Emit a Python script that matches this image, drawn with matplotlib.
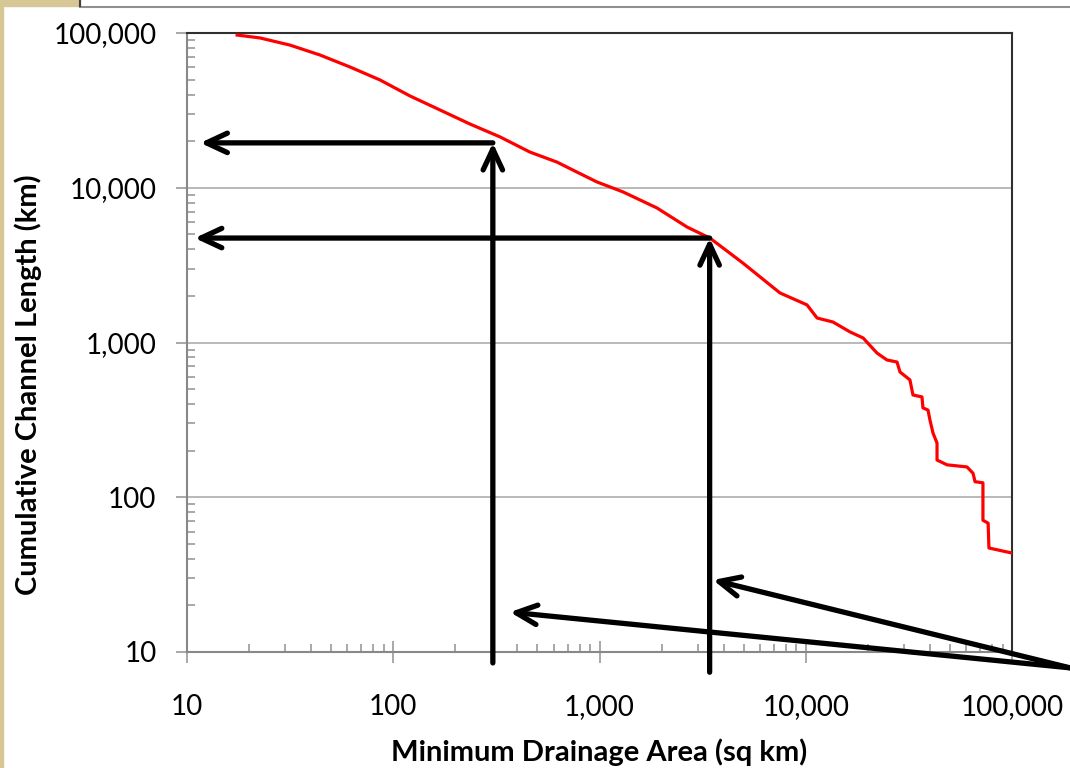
import numpy as np
import matplotlib.pyplot as plt
from matplotlib.ticker import FuncFormatter, LogLocator, NullFormatter
from matplotlib.patches import Rectangle
from matplotlib.lines import Line2D

plt.rcParams['font.family'] = ['Lato', 'DejaVu Sans']

# Curva acumulada
area = [17.5, 22.6, 31.6, 44.1, 61.7, 86.3, 120.5, 168.6, 235.6, 329.6, 460,
        622, 780, 972, 1300, 1900, 2660, 3430, 4960, 7500, 10140, 11350,
        13560, 16400, 18970, 22150, 24760, 27700, 28640, 32000, 33100, 36600,
        37000, 39150, 40000, 41400, 43300, 43300, 48400, 60500, 64700, 66200,
        72300, 72300, 76600, 77300, 100000]
length = [97000, 92900, 83500, 72100, 60300, 49700, 39200, 31800, 25800, 21300,
          17000, 14650, 12600, 10900, 9400, 7400, 5570, 4730, 3260, 2090, 1750,
          1440, 1356, 1170, 1070, 855, 771, 748, 645, 573, 458, 445, 378, 366,
          316, 260, 224, 174, 162, 157, 143, 126, 124, 71, 68, 47, 43.6]

# Flechas de lectura: (area, longitud, punta izquierda, inicio abajo)
reads = [(304, 19500, 11.6, 8.5), (3420, 4730, 10.9, 7.4)]
# Flechas diagonales: puntas y origen común
diag_tips = [(368, 18.1), (3550, 29.2)]
diag_origin = (191000, 7.9)

fig = plt.figure(figsize=(10.7, 7.68), dpi=100)
ax = fig.add_axes([187 / 1070, 1 - 652 / 768, 825 / 1070, 619 / 768])

# marco de la captura
fig.patches.append(Rectangle((0, 0), 3 / 1070, 1, transform=fig.transFigure,
                             color='#d6c794', zorder=0))
fig.patches.append(Rectangle((0, 1 - 6 / 768), 80 / 1070, 6 / 768,
                             transform=fig.transFigure, color='#d6c794', zorder=0))
fig.lines.append(Line2D([80 / 1070, 1], [1 - 6.5 / 768] * 2, transform=fig.transFigure,
                        color='#909090', lw=1.5))
fig.lines.append(Line2D([80 / 1070] * 2, [1 - 6 / 768, 1], transform=fig.transFigure,
                        color='#404040', lw=1.5))

ax.set_xscale('log')
ax.set_yscale('log')
ax.set_xlim(10, 100000)
ax.set_ylim(10, 100000)

ax.plot(area, length, color='#ff0000', lw=2.3, zorder=3)

arrow = dict(arrowstyle='->, head_length=1.5, head_width=0.7', lw=3.8, color='black',
             shrinkA=0, shrinkB=0)
for x, y, xtip, ybot in reads:
    ax.annotate('', xy=(x, y), xytext=(x, ybot), arrowprops=arrow, annotation_clip=False)
    ax.annotate('', xy=(xtip, y), xytext=(x, y), arrowprops=arrow, annotation_clip=False)
for tx, ty in diag_tips:
    ax.annotate('', xy=(tx, ty), xytext=diag_origin, arrowprops=arrow,
                annotation_clip=False)

fmt = FuncFormatter(lambda v, p: '{:,.0f}'.format(v))
ax.xaxis.set_major_formatter(fmt)
ax.yaxis.set_major_formatter(fmt)
ax.xaxis.set_major_locator(LogLocator(base=10, numticks=10))
ax.yaxis.set_major_locator(LogLocator(base=10, numticks=10))
ax.xaxis.set_minor_locator(LogLocator(base=10, subs=np.arange(2, 10), numticks=20))
ax.yaxis.set_minor_locator(LogLocator(base=10, subs=np.arange(2, 10), numticks=20))
ax.xaxis.set_minor_formatter(NullFormatter())
ax.yaxis.set_minor_formatter(NullFormatter())

ax.grid(axis='y', which='major', color='#b3b3b3', lw=1.3)
ax.tick_params(axis='x', which='major', direction='inout', length=16, width=1.2,
               color='#999999', labelsize=20, pad=22)
ax.tick_params(axis='x', which='minor', direction='in', length=6, width=1.2,
               color='#999999')
ax.tick_params(axis='y', which='major', direction='out', length=8, width=1.2,
               color='#999999', labelsize=20, pad=14)
ax.tick_params(axis='y', which='minor', direction='in', length=6, width=1.2,
               color='#999999')

for s in ['left', 'bottom']:
    ax.spines[s].set_color('#888888')
    ax.spines[s].set_linewidth(1.5)
for s in ['top', 'right']:
    ax.spines[s].set_color('#303030')
    ax.spines[s].set_linewidth(1.5)

ax.set_xlabel('Minimum Drainage Area (sq km)', fontsize=21, fontweight='bold')
ax.set_ylabel('Cumulative Channel Length (km)', fontsize=21, fontweight='bold')
ax.xaxis.set_label_coords((599 - 187) / 825, -(752 - 652) / 619)
ax.yaxis.set_label_coords(-(187 - 28) / 825, (652 - 385) / 619)
ax.xaxis.label.set_va('center')
ax.yaxis.label.set_va('center')

fig.savefig('out.png', dpi=100)
